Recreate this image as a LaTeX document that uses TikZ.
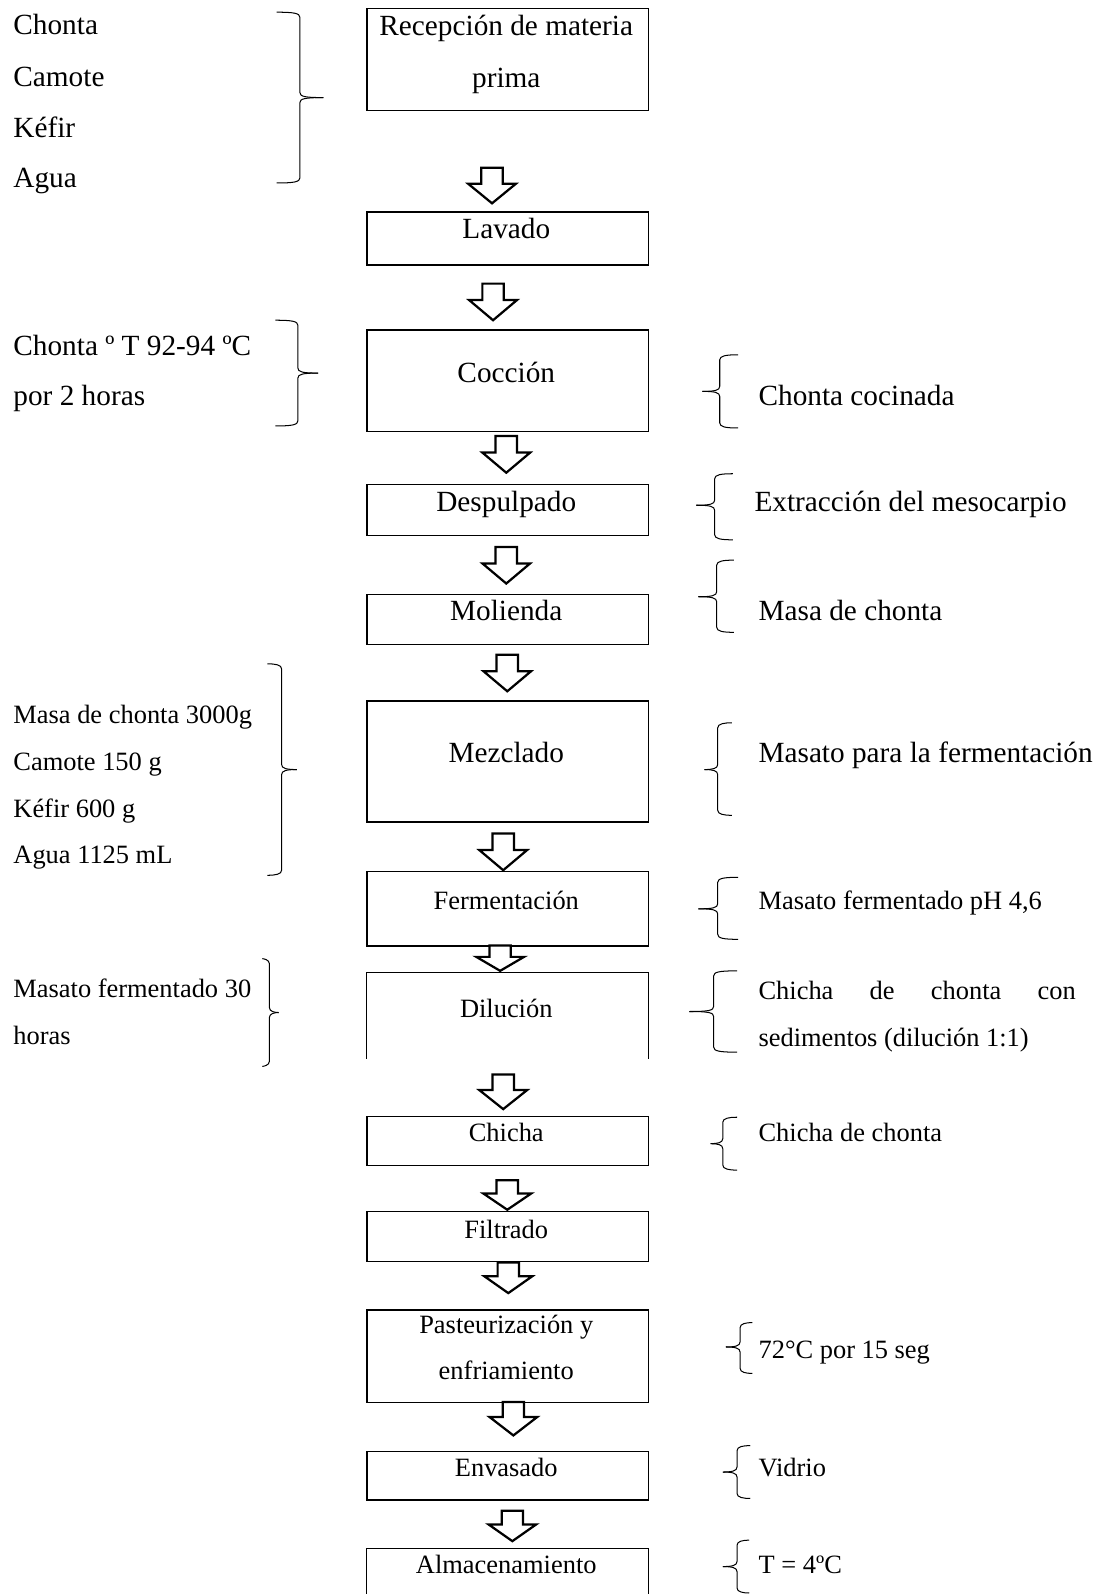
\documentclass[tikz,border=0pt]{standalone}
\usepackage{fontspec}
\setmainfont{Liberation Serif}
\usetikzlibrary{calc}
\tikzset{
  stepbox/.style={draw, line width=1.2pt, minimum width=277, inner sep=0, anchor=north},
  openbox/.style={draw=none, minimum width=277, inner sep=0, anchor=north},
  blockarrow/.style={draw, line width=2.2pt, fill=white, line join=miter},
  brc/.style={draw, line width=1pt},
  txtL/.style={font=\fontsize{28.8}{30}\selectfont, inner sep=0},
  txtS/.style={font=\fontsize{26}{28}\selectfont, inner sep=0},
}
% block arrow: x, ytop, ytip
\newcommand{\barrow}[3]{%
  \pgfmathsetmacro{\hy}{#2+0.45*(#3-#2)}%
  \draw[blockarrow] (#1-10.5,#2) -- (#1+10.5,#2) -- (#1+10.5,\hy) -- (#1+23.5,\hy)
     -- (#1,#3) -- (#1-23.5,\hy) -- (#1-10.5,\hy) -- cycle;}
% closing brace "}" : endx, xv, tipx, ytop, ymid, ybot
\newcommand{\bracR}[6]{%
  \draw[brc] (#1,#4) .. controls (#2-6,#4) and (#2,#4+1) .. (#2,#4+5) -- (#2,#5-5)
     .. controls (#2,#5-1) and (#2+5,#5) .. (#3,#5);
  \draw[brc] (#3,#5) .. controls (#2+5,#5) and (#2,#5+1) .. (#2,#5+5) -- (#2,#6-5)
     .. controls (#2,#6-1) and (#2-6,#6) .. (#1,#6);}
% opening brace "{" : endx, xv, tipx, ytop, ymid, ybot
\newcommand{\bracL}[6]{%
  \draw[brc] (#1,#4) .. controls (#2+6,#4) and (#2,#4+1) .. (#2,#4+5) -- (#2,#5-5)
     .. controls (#2,#5-1) and (#2-5,#5) .. (#3,#5);
  \draw[brc] (#3,#5) .. controls (#2-5,#5) and (#2,#5+1) .. (#2,#5+5) -- (#2,#6-5)
     .. controls (#2,#6-1) and (#2+6,#6) .. (#1,#6);}

\begin{document}
\begin{tikzpicture}[x=1pt, y=-1pt]
\useasboundingbox[fill=white] (0,0) rectangle (1084,1568);

% ---------------- main boxes ----------------
\node[stepbox, minimum height=100] (b1) at (499.5,8) {};
\node[stepbox, minimum height=52]  (b2) at (499.5,208) {};
\node[stepbox, minimum height=100] (b3) at (499.5,324) {};
\node[stepbox, minimum height=50]  (b4) at (499.5,476) {};
\node[stepbox, minimum height=49]  (b5) at (499.5,584) {};
\node[stepbox, minimum height=119] (b6) at (499.5,689) {};
\node[stepbox, minimum height=73]  (b7) at (499.5,857) {};
\node[openbox, minimum height=84]  (b8) at (499.5,957) {};
\draw[line width=1.2pt] (b8.south west) -- (b8.north west) -- (b8.north east) -- (b8.south east);
\node[stepbox, minimum height=48]  (b9) at (499.5,1098) {};
\node[stepbox, minimum height=49]  (b10) at (499.5,1191) {};
\node[stepbox, minimum height=91]  (b11) at (499.5,1288) {};
\node[stepbox, minimum height=48]  (b12) at (499.5,1427) {};
\node[openbox, minimum height=60]  (b13) at (499.5,1523) {};
\draw[line width=1.2pt] (b13.south west) -- (b13.north west) -- (b13.north east) -- (b13.south east);

% ---------------- box texts ----------------
\node[txtL, anchor=base] (t1a) at (498,35) {Recepción de materia};
\node[txtL, anchor=base] (t1b) at (498,86) {prima};
\node[txtL, anchor=base] (t2) at (498,235) {Lavado};
\node[txtL, anchor=base] (t3) at (498,376) {Cocción};
\node[txtL, anchor=base] (t4) at (498,503) {Despulpado};
\node[txtL, anchor=base] (t5) at (498,610) {Molienda};
\node[txtL, anchor=base] (t6) at (498,750) {Mezclado};
\node[txtS, anchor=base] (t7) at (498,895) {Fermentación};
\node[txtS, anchor=base] (t8) at (498,1001) {Dilución};
\node[txtS, anchor=base] (t9) at (498,1123) {Chicha};
\node[txtS, anchor=base] (t10) at (498,1218) {Filtrado};
\node[txtS, anchor=base] (t11a) at (498,1312) {Pasteurización y};
\node[txtS, anchor=base] (t11b) at (498,1357) {enfriamiento};
\node[txtS, anchor=base] (t12) at (498,1452) {Envasado};
\node[txtS, anchor=base] (t13) at (498,1548) {Almacenamiento};

% ---------------- block arrows ----------------
\barrow{484}{165}{200}
\barrow{485}{279}{315}
\barrow{498}{429}{465}
\barrow{498}{538}{574}
\barrow{499}{644}{680}
\barrow{495}{820}{856}
\barrow{492}{930}{955}
\barrow{495}{1057}{1091}
\barrow{499}{1161}{1190}
\barrow{500}{1242}{1272}
\barrow{505}{1379}{1412}
\barrow{504}{1486}{1516}

% ---------------- left inputs ----------------
\node[txtL, anchor=base west] (l1) at (13,34) {Chonta};
\node[txtL, anchor=base west] (l2) at (13,85) {Camote};
\node[txtL, anchor=base west] (l3) at (13,135) {Kéfir};
\node[txtL, anchor=base west] (l4) at (13,184) {Agua};
\bracR{272}{295}{318}{12}{96}{180}

\node[txtL, anchor=base west] (l5) at (13,350) {Chonta º T 92-94 ºC};
\node[txtL, anchor=base west] (l6) at (13,399) {por 2 horas};
\bracR{271}{293}{313}{315}{367}{419}

\node[txtS, anchor=base west] (l7) at (13,712) {Masa de chonta 3000g};
\node[txtS, anchor=base west] (l8) at (13,758) {Camote 150 g};
\node[txtS, anchor=base west] (l9) at (13,804) {Kéfir 600 g};
\node[txtS, anchor=base west] (l10) at (13,849) {Agua 1125 mL};
\bracR{263}{277}{292}{653}{757}{861}

\node[txtS, anchor=base west] (l11) at (13,981) {Masato fermentado 30};
\node[txtS, anchor=base west] (l12) at (13,1027) {horas};
\bracR{258}{265}{274}{943}{996}{1049}

% ---------------- right outputs ----------------
\node[txtL, anchor=base west] (r1) at (746,399) {Chonta cocinada};
\bracL{726}{708}{691}{349}{385}{421}
\node[txtL, anchor=base west] (r2) at (742,503) {Extracción del mesocarpio};
\bracL{721}{703}{685}{466}{497}{531}
\node[txtL, anchor=base west] (r3) at (746,610) {Masa de chonta};
\bracL{722}{705}{687}{551}{587}{622}
\node[txtL, anchor=base west] (r4) at (746,750) {Masato para la fermentación};
\bracL{720}{706}{693}{711}{757}{802}
\node[txtS, anchor=base west] (r5) at (746,895) {Masato fermentado pH 4,6};
\bracL{726}{706}{687}{863}{894}{924}
\node[txtS, anchor=base west] (r6a) at (746,983) {\makebox[312pt][s]{Chicha\hfill de\hfill chonta\hfill con}};
\node[txtS, anchor=base west] (r6b) at (746,1029) {sedimentos (dilución 1:1)};
\bracL{725}{702}{678}{955}{995}{1035}
\node[txtS, anchor=base west] (r7) at (746,1123) {Chicha de chonta};
\bracL{725}{711}{699}{1099}{1125}{1151}
\node[txtS, anchor=base west] (r8) at (746,1336) {72°C por 15 seg};
\bracL{740}{728}{714}{1301}{1325}{1351}
\node[txtS, anchor=base west] (r9) at (746,1452) {Vidrio};
\bracL{738}{725}{711}{1422}{1448}{1474}
\node[txtS, anchor=base west] (r10) at (746,1548) {T = 4ºC};
\bracL{737}{725}{711}{1515}{1541}{1567}
\end{tikzpicture}
\end{document}
